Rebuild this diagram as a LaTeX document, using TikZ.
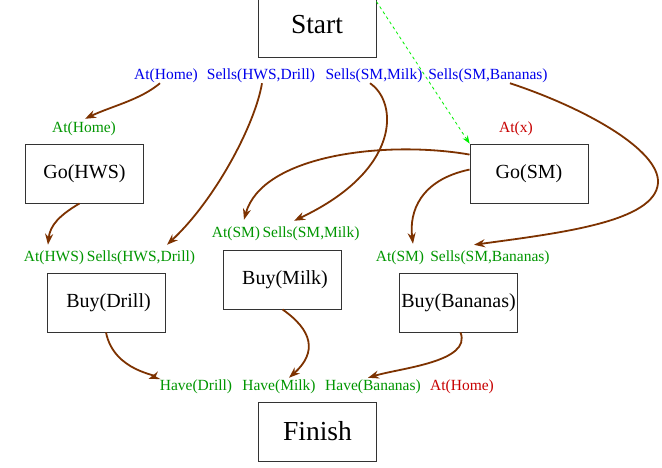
\documentclass[tikz,border=0pt]{standalone}
\usepackage{fontspec}
\setmainfont{Liberation Serif}
\usetikzlibrary{arrows.meta}
\definecolor{lblue}{RGB}{0,0,235}
\definecolor{lgreen}{RGB}{0,150,0}
\definecolor{lred}{RGB}{200,0,0}
\definecolor{brn}{RGB}{125,50,0}
\definecolor{dgreen}{RGB}{0,240,0}
\tikzset{
  box/.style={draw=black!80, line width=0.9pt, minimum width=118pt, minimum height=59pt, inner sep=0pt, font=\fontsize{20}{24}\selectfont},
  bigbox/.style={box, font=\fontsize{27.5}{32}\selectfont},
  lbl/.style={inner sep=0pt, font=\fontsize{15.5}{18}\selectfont},
  blbl/.style={lbl, text=lblue},
  glbl/.style={lbl, text=lgreen},
  rlbl/.style={lbl, text=lred},
  arr/.style={draw=brn, line width=1.8pt, -{Stealth[length=11pt,width=8pt]}},
  darr/.style={draw=dgreen, line width=0.8pt, dashed, -{Stealth[length=8pt,width=6pt]}}
}
\begin{document}
\begin{tikzpicture}[x=1pt,y=-1pt]
\useasboundingbox (0,0) rectangle (662,467);
\clip (0,0) rectangle (662,467);
\fill[white] (0,0) rectangle (662,467);
% boxes
\node[bigbox, minimum height=64pt] (start) at (317,25) {Start};
\node[box] (gohws) at (84.5,173.5) {Go(HWS)};
\node[box] (gosm) at (529,173.5) {Go(SM)};
\node[box] (buydrill) at (106,302.5) {\hspace{5pt}Buy(Drill)};
\node[box] (buymilk) at (282.5,279.5) {\hspace{5pt}Buy(Milk)};
\node[box] (buyban) at (458.5,302.5) {Buy(Bananas)};
\node[bigbox] (finish) at (317.5,431.5) {Finish};
% start effects
\node[blbl] (sAtHome) at (166,76) {At(Home)};
\node[blbl] (sSellsHWS) at (261,76) {Sells(HWS,Drill)};
\node[blbl] (sSellsMilk) at (374,76) {Sells(SM,Milk)};
\node[blbl] (sSellsBan) at (488,76) {Sells(SM,Bananas)};
% preconditions
\node[glbl] (pGoHWS) at (84,129) {At(Home)};
\node[rlbl] (pGoSM) at (516,129) {At(x)};
\node[glbl] (pAtHWS) at (54,258) {At(HWS)};
\node[glbl] (pSellsHWS) at (141,258) {Sells(HWS,Drill)};
\node[glbl] (pAtSM1) at (236,234) {At(SM)};
\node[glbl] (pSellsMilk) at (311,234) {Sells(SM,Milk)};
\node[glbl] (pAtSM2) at (400,258) {At(SM)};
\node[glbl] (pSellsBan) at (490,258) {Sells(SM,Bananas)};
\node[glbl] (fDrill) at (196,387) {Have(Drill)};
\node[glbl] (fMilk) at (279,387) {Have(Milk)};
\node[glbl] (fBan) at (373,387) {Have(Bananas)};
\node[rlbl] (fHome) at (462,387) {At(Home)};
% connectors
\draw[arr] ([xshift=-6pt]sAtHome.south) .. controls (140,100) and (112,106) .. ([xshift=1pt,yshift=3pt]pGoHWS.north);
\draw[arr] ([xshift=1pt]sSellsHWS.south) .. controls (255,125) and (215,200) .. ([xshift=26pt,yshift=6pt]pSellsHWS.north);
\draw[arr] ([xshift=-4pt]sSellsMilk.south) .. controls (398,102) and (402,170) .. ([xshift=-17pt,yshift=6pt]pSellsMilk.north);
\draw[arr] ([xshift=22pt]sSellsBan.south) .. controls (585,108) and (660,150) .. (658,183)
      .. controls (655,222) and (560,233) .. ([xshift=-16pt,yshift=6pt]pSellsBan.north);
\draw[darr] ([yshift=-9pt]start.north east) -- (gosm.north west);
\draw[arr] ([yshift=-11pt]gosm.north west) .. controls (385,140) and (262,155) .. ([xshift=8pt,yshift=7pt]pAtSM1.north);
\draw[arr] ([yshift=-26pt]gosm.north west) .. controls (420,180) and (409,212) .. ([xshift=13pt,yshift=7pt]pAtSM2.north);
\draw[arr] ([xshift=-5pt]gohws.south) .. controls (60,215) and (50,225) .. ([xshift=-6pt,yshift=6pt]pAtHWS.north);
\draw[arr] (buydrill.south) .. controls (114,372) and (160,375) .. ([xshift=-11pt,yshift=1pt]fDrill.north west);
\draw[arr] (buymilk.south) .. controls (312,330) and (318,352) .. ([xshift=10pt,yshift=2pt]fMilk.north);
\draw[arr] ([xshift=2pt]buyban.south) .. controls (472,362) and (400,368) .. ([xshift=-5pt,yshift=2pt]fBan.north);
\end{tikzpicture}
\end{document}
